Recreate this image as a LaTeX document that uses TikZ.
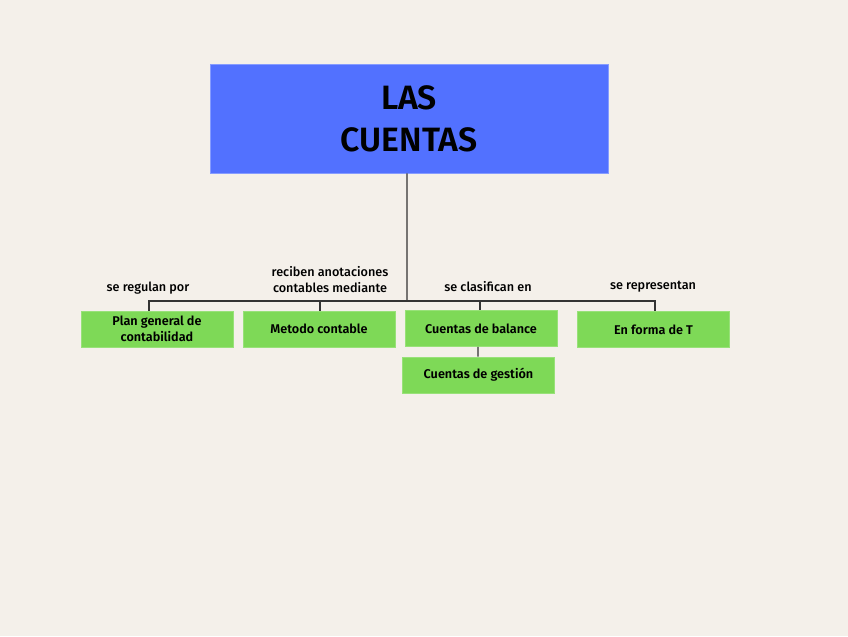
\documentclass[tikz,border=0pt]{standalone}
\usepackage{fontspec}
\setmainfont{Fira Sans}[UprightFont=* Medium, BoldFont=* SemiBold]
\usetikzlibrary{positioning}

\definecolor{paper}{HTML}{F4F0EA}
\definecolor{topblue}{HTML}{5271FF}
\definecolor{leafgreen}{HTML}{7ED957}
\definecolor{wire}{HTML}{333333}

\begin{document}
\begin{tikzpicture}[
  x=1cm/40, y=-1cm/40,
  topbox/.style={fill=topblue, draw=topblue!70!white, minimum width=398/40*1cm,
                 minimum height=109/40*1cm, align=center,
                 font=\fontsize{24}{30}\selectfont\bfseries},
  leafbox/.style={fill=leafgreen, draw=leafgreen!80!white, minimum width=152/40*1cm,
                  minimum height=36/40*1cm, align=center, inner sep=1pt,
                  font=\fontsize{9}{11.5}\selectfont\bfseries},
  linklabel/.style={align=center, font=\fontsize{9}{12}\selectfont},
  wireline/.style={draw=wire, line width=0.9pt}
]
  \fill[paper] (0,0) rectangle (848,636);
  \useasboundingbox (0,0) rectangle (848,636);

  \node[topbox] (cuentas) at (409,118.5) {LAS\\CUENTAS};

  \node[leafbox] (plan)    at (157,329)   {Plan general de\\contabilidad};
  \node[leafbox] (metodo)  at (319,329)   {Metodo contable};
  \node[leafbox] (balance) at (481,328.5) {Cuentas de balance};
  \node[leafbox] (gestion) at (478.5,375) {Cuentas de gestión};
  \node[leafbox] (forma)   at (653.5,329.5) {En forma de T};

  % labels above the bus
  \node[linklabel] (lregulan)   at (148,288) {se regulan por};
  \node[linklabel] (lreciben)   at (330,279.5) {reciben anotaciones\\contables mediante};
  \node[linklabel] (lclasifica) at (488,287) {se clasifican en};
  \node[linklabel] (lrepresenta) at (653,287) {se representan};

  \coordinate (bus) at (407,301);
  \draw[wireline] ([xshift=-2/40*1cm]cuentas.south) -- (bus);
  \draw[wireline] (bus) -| ([xshift=-8/40*1cm]plan.north);
  \draw[wireline] (bus) -| ([xshift=1/40*1cm]metodo.north);
  \draw[wireline] (bus) -| ([xshift=-1/40*1cm]balance.north);
  \draw[wireline] (bus) -| ([xshift=1.5/40*1cm]forma.north);
  \draw[wireline] ([xshift=-3/40*1cm]balance.south) -- ([xshift=-0.5/40*1cm]gestion.north);
\end{tikzpicture}
\end{document}
